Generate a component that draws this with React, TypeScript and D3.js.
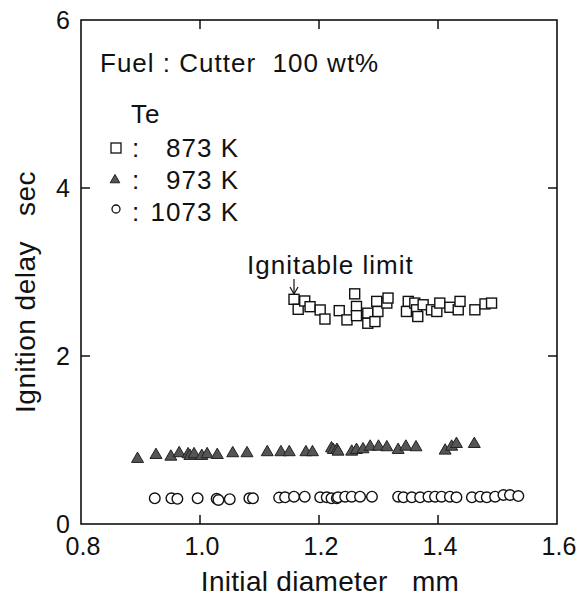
import React from "react";
import * as d3 from "d3";

// Te = 873 K (squares)
const d873 = [1.158, 1.165, 1.176, 1.185, 1.202, 1.21, 1.234, 1.247, 1.26, 1.263, 1.263, 1.282, 1.282, 1.294, 1.297, 1.299, 1.314, 1.316, 1.35, 1.347, 1.361, 1.364, 1.366, 1.375, 1.389, 1.398, 1.403, 1.42, 1.434, 1.437, 1.462, 1.479, 1.49];
const t873 = [2.675, 2.556, 2.655, 2.587, 2.548, 2.44, 2.54, 2.43, 2.74, 2.59, 2.48, 2.51, 2.39, 2.41, 2.65, 2.53, 2.63, 2.69, 2.65, 2.53, 2.63, 2.55, 2.47, 2.61, 2.55, 2.53, 2.63, 2.58, 2.55, 2.65, 2.55, 2.62, 2.63];

// Te = 973 K (filled triangles)
const d973 = [0.895, 0.926, 0.951, 0.965, 0.98, 0.983, 0.99, 1.003, 1.012, 1.029, 1.055, 1.079, 1.113, 1.136, 1.15, 1.178, 1.189, 1.221, 1.224, 1.23, 1.232, 1.255, 1.263, 1.274, 1.286, 1.3, 1.314, 1.333, 1.346, 1.363, 1.412, 1.423, 1.431, 1.461];
const t973 = [0.774, 0.821, 0.801, 0.842, 0.83, 0.81, 0.83, 0.81, 0.83, 0.821, 0.842, 0.842, 0.854, 0.854, 0.854, 0.854, 0.854, 0.901, 0.881, 0.881, 0.861, 0.861, 0.881, 0.889, 0.92, 0.92, 0.913, 0.881, 0.92, 0.913, 0.873, 0.92, 0.952, 0.952];

// Te = 1073 K (circles)
const d1073 = [0.924, 0.952, 0.962, 0.996, 1.028, 1.031, 1.05, 1.083, 1.089, 1.133, 1.143, 1.158, 1.176, 1.202, 1.213, 1.221, 1.23, 1.232, 1.244, 1.255, 1.269, 1.289, 1.333, 1.342, 1.356, 1.37, 1.384, 1.395, 1.406, 1.42, 1.431, 1.457, 1.471, 1.482, 1.496, 1.51, 1.521, 1.535];
const t1073 = [0.306, 0.306, 0.3, 0.306, 0.3, 0.286, 0.296, 0.306, 0.306, 0.314, 0.318, 0.325, 0.325, 0.318, 0.318, 0.306, 0.306, 0.318, 0.325, 0.325, 0.325, 0.325, 0.325, 0.318, 0.318, 0.318, 0.325, 0.325, 0.325, 0.325, 0.318, 0.318, 0.325, 0.318, 0.325, 0.345, 0.345, 0.333];

const xTicks = [0.8, 1.0, 1.2, 1.4, 1.6];
const yTicks = [0, 2, 4, 6];
const legendLabels = ["873 K", "973 K", "1073 K"];

const W = 577;
const H = 597;
const left = 81;
const right = 557;
const top = 20;
const bottom = 524;
const FONT = "'Liberation Sans', Arial, Helvetica, sans-serif";

export default function App() {
  const x = d3.scaleLinear().domain([0.8, 1.6]).range([left, right]);
  const y = d3.scaleLinear().domain([0, 6]).range([bottom, top]);
  const tri = d3.symbol().type(d3.symbolTriangle).size(62);
  const tick = 9;

  const inner = xTicks.filter((v) => v > 0.8 && v < 1.6);
  const innerY = yTicks.filter((v) => v > 0 && v < 6);

  return (
    <svg
      width={W}
      height={H}
      style={{ position: "absolute", left: 0, top: 0, background: "#fff" }}
      fontFamily={FONT}
    >
      <rect x={0} y={0} width={W} height={H} fill="#fff" />
      {/* frame */}
      <rect x={left} y={top} width={right - left} height={bottom - top} fill="none" stroke="#111" strokeWidth={1.6} />
      {inner.map((v) => (
        <g key={"xt" + v}>
          <line x1={x(v)} x2={x(v)} y1={bottom} y2={bottom - tick} stroke="#111" strokeWidth={1.5} />
          <line x1={x(v)} x2={x(v)} y1={top} y2={top + tick} stroke="#111" strokeWidth={1.5} />
        </g>
      ))}
      {innerY.map((v) => (
        <g key={"yt" + v}>
          <line x1={left} x2={left + tick} y1={y(v)} y2={y(v)} stroke="#111" strokeWidth={1.5} />
          <line x1={right} x2={right - tick} y1={y(v)} y2={y(v)} stroke="#111" strokeWidth={1.5} />
        </g>
      ))}
      {xTicks.map((v) => (
        <text key={"xl" + v} x={x(v) + 2} y={555} fontSize={25} textAnchor="middle" fill="#111">
          {d3.format(".1f")(v)}
        </text>
      ))}
      {yTicks.map((v) => (
        <text key={"yl" + v} x={70} y={y(v) + 9} fontSize={25} textAnchor="end" fill="#111">
          {v}
        </text>
      ))}
      <text x={330} y={591} fontSize={28} letterSpacing={0.3} textAnchor="middle" fill="#111" style={{ whiteSpace: "pre" }}>
        {"Initial diameter   mm"}
      </text>
      <text
        transform={`translate(35,292) rotate(-90)`}
        fontSize={28}
        letterSpacing={0.5}
        textAnchor="middle"
        fill="#111"
        style={{ whiteSpace: "pre" }}
      >
        {"Ignition delay   sec"}
      </text>

      {/* legend */}
      <text x={100} y={72} fontSize={26} letterSpacing={1} fill="#111" style={{ whiteSpace: "pre" }}>
        {"Fuel : Cutter  100 wt%"}
      </text>
      <text x={131} y={123} fontSize={26} letterSpacing={1} fill="#111">Te</text>
      <rect x={111} y={143} width={10} height={10} fill="#fff" stroke="#111" strokeWidth={1.3} />
      <path d={d3.symbol().type(d3.symbolTriangle).size(40)()!} transform="translate(115,180)" fill="#555" stroke="#222" strokeWidth={1} />
      <circle cx={116} cy={209} r={4} fill="#fff" stroke="#111" strokeWidth={1.3} />
      {legendLabels.map((l, i) => (
        <g key={l}>
          <text x={132} y={157 + i * 32} fontSize={26} fill="#111">:</text>
          <text x={239} y={157 + i * 32} fontSize={26} letterSpacing={1} textAnchor="end" fill="#111">{l}</text>
        </g>
      ))}

      {/* annotation */}
      <text x={247} y={274} fontSize={26} letterSpacing={1} fill="#111">Ignitable limit</text>
      <line x1={x(d873[0])} x2={x(d873[0])} y1={279} y2={294} stroke="#111" strokeWidth={1.2} />
      <path
        d={`M${x(d873[0]) - 4},${287} L${x(d873[0])},${294} L${x(d873[0]) + 4},${287}`}
        fill="none"
        stroke="#111"
        strokeWidth={1.2}
      />

      {/* 1073 K */}
      {d1073.map((d, i) => (
        <circle key={"c" + i} cx={x(d)} cy={y(t1073[i])} r={5.3} fill="#fff" stroke="#111" strokeWidth={1.4} />
      ))}
      {/* 973 K */}
      {d973.map((d, i) => (
        <path
          key={"t" + i}
          d={tri()!}
          transform={`translate(${x(d)},${y(t973[i])})`}
          fill="#555"
          stroke="#222"
          strokeWidth={1}
        />
      ))}
      {/* 873 K */}
      {d873.map((d, i) => (
        <rect
          key={"s" + i}
          x={x(d) - 5}
          y={y(t873[i]) - 5}
          width={10}
          height={10}
          fill="#fff"
          stroke="#111"
          strokeWidth={1.4}
        />
      ))}
    </svg>
  );
}
